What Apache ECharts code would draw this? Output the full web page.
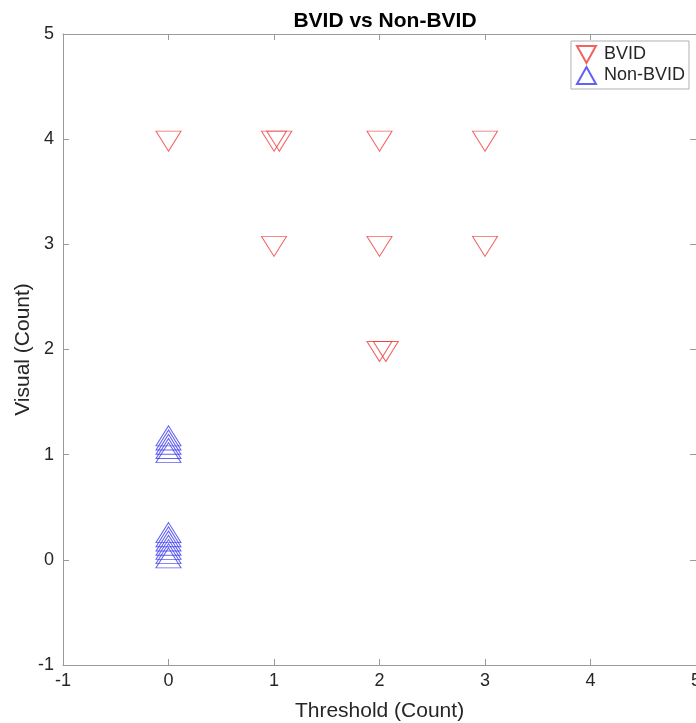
<!DOCTYPE html>
<html>
<head>
<meta charset="utf-8">
<script src="https://cdn.jsdelivr.net/npm/echarts@6/dist/echarts.min.js"></script>
<style>
  html, body { margin: 0; padding: 0; background: #fff; }
  #chart { width: 696px; height: 723px; }
</style>
</head>
<body>
<div id="chart"></div>
<script>
// data (jittered points)
const bvidX = [0, 1, 1.05, 2, 3, 1, 2, 3, 2, 2.06]
const bvidY = [4, 4, 4, 4, 4, 3, 3, 3, 2, 2]
const nonBvidX = [0, 0, 0, 0, 0, 0, 0, 0, 0, 0, 0, 0]
const nonBvidY = [1, 1.04, 1.08, 1.12, 1.16, 0, 0.04, 0.08, 0.12, 0.16, 0.2, 0.24]
const axisTicks = [-1, 0, 1, 2, 3, 4, 5]

const font = 'Liberation Sans, Arial, Helvetica, sans-serif'
const axisGray = '#9a9a9a'
const textColor = '#262626'

const toPairs = (xs, ys) => xs.map((x, i) => [x, ys[i]])

const chart = echarts.init(document.getElementById('chart'))

const baseAxis = {
  type: 'value',
  min: axisTicks[0],
  max: axisTicks[axisTicks.length - 1],
  interval: 1,
  splitLine: { show: false },
  axisLine: { show: true, onZero: false, lineStyle: { color: axisGray, width: 1 } },
  axisTick: { show: true, inside: true, length: 6, lineStyle: { color: axisGray } }
}

const option = {
  animation: false,
  textStyle: { fontFamily: font },
  title: {
    text: 'BVID vs Non-BVID',
    left: 380,
    textAlign: 'center',
    top: 6,
    textStyle: { fontSize: 21, fontWeight: 'bold', color: '#000', fontFamily: font }
  },
  grid: { left: 63, right: 0, top: 34, bottom: 58, outerBoundsMode: 'none' },
  legend: {
    orient: 'vertical',
    right: 7,
    top: 41,
    padding: [4, 4, 4, 5],
    itemGap: 2,
    itemWidth: 19,
    itemHeight: 17,
    borderColor: '#b0b0b0',
    borderWidth: 1,
    backgroundColor: '#fff',
    textStyle: { fontSize: 18, color: textColor, fontFamily: font, padding: [0, 0, 0, 3] },
    data: [
      { name: 'BVID', icon: 'path://M0,0 L19,0 L9.5,17 Z' },
      { name: 'Non-BVID', icon: 'path://M9.5,0 L19,17 L0,17 Z' }
    ]
  },
  xAxis: [
    Object.assign({}, baseAxis, {
      position: 'bottom',
      name: 'Threshold (Count)',
      nameLocation: 'middle',
      nameGap: 36,
      nameTextStyle: { fontSize: 21, color: textColor },
      axisLabel: { fontSize: 18, color: textColor, margin: 7 }
    }),
    Object.assign({}, baseAxis, { position: 'top', axisLabel: { show: false } })
  ],
  yAxis: [
    Object.assign({}, baseAxis, {
      position: 'left',
      name: 'Visual (Count)',
      nameLocation: 'middle',
      nameGap: 29,
      nameMoveOverlap: false,
      nameTextStyle: { fontSize: 21, color: textColor },
      axisLabel: { fontSize: 18, color: textColor, margin: 9 }
    }),
    Object.assign({}, baseAxis, { position: 'right', axisLabel: { show: false } })
  ],
  series: [
    {
      name: 'BVID',
      type: 'scatter',
      symbol: 'triangle',
      symbolRotate: 180,
      symbolSize: [25, 20],
      symbolOffset: [0, 2],
      itemStyle: { color: 'rgba(0,0,0,0)', borderColor: '#f03a3a', borderWidth: 1 },
      data: toPairs(bvidX, bvidY)
    },
    {
      name: 'Non-BVID',
      type: 'scatter',
      symbol: 'triangle',
      symbolSize: [25, 20],
      symbolOffset: [0, -2],
      itemStyle: { color: 'rgba(0,0,0,0)', borderColor: '#3a3af0', borderWidth: 1 },
      data: toPairs(nonBvidX, nonBvidY)
    }
  ]
}

chart.setOption(option)
</script>
</body>
</html>
